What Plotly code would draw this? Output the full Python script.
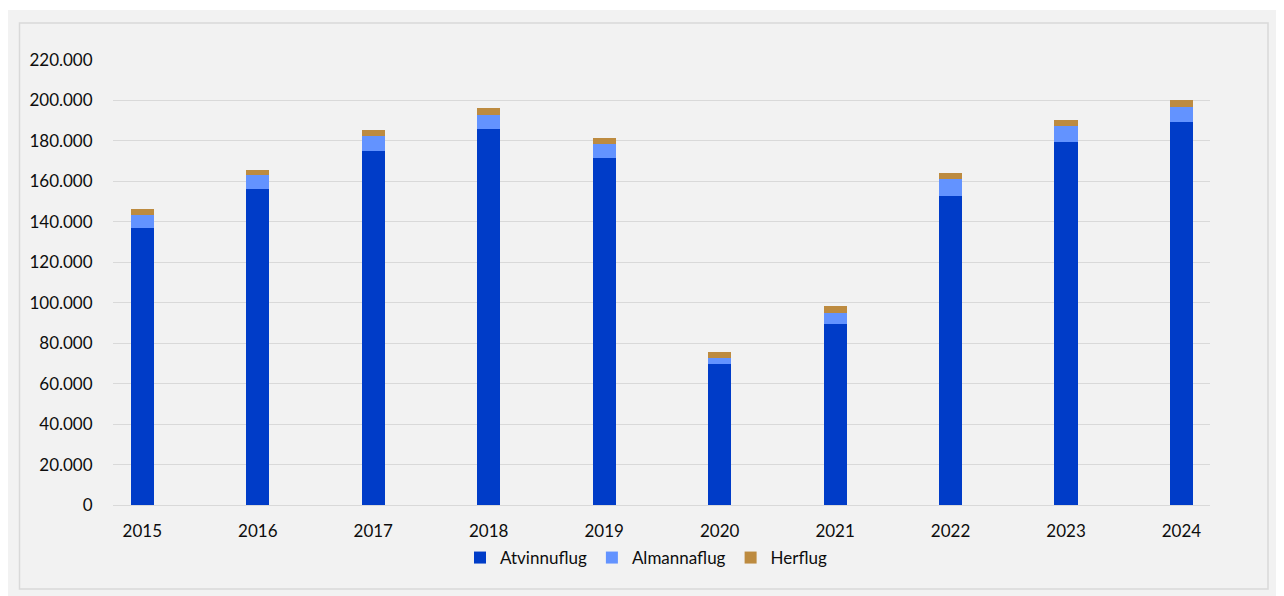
import plotly.graph_objects as go

years = ["2015", "2016", "2017", "2018", "2019", "2020", "2021", "2022", "2023", "2024"]
atvinnuflug = [136800, 156200, 175200, 185900, 171400, 69700, 89300, 152900, 179600, 189400]
almannaflug = [6600, 6800, 7100, 7100, 7100, 3100, 5500, 8100, 7600, 7500]
herflug = [2800, 2800, 3100, 3100, 3100, 2700, 3400, 3100, 3100, 3300]

series_names = ["Atvinnuflug", "Almannaflug", "Herflug"]
series_colors = ["#003cc8", "#6393ff", "#bd8b40"]

FONT = "Lato, 'Open Sans', sans-serif"
TEXT_COLOR = "#0d0d0d"

fig = go.Figure()
for name, vals, col in zip(series_names, [atvinnuflug, almannaflug, herflug], series_colors):
    fig.add_trace(go.Bar(x=years, y=vals, name=name, marker=dict(color=col, line=dict(width=0))))

# page has an 8px body margin; work in screenshot pixels and convert
OFF = 8
FW, FH = 1284 - OFF, 596 - OFF
L, R, T, B = 113 - OFF, 1210 - OFF, 60 - OFF, 505 - OFF
W, H = R - L, B - T

def px_x(p):
    return (p - OFF - L) / W

def px_y(p):
    return (B - (p - OFF)) / H

fig.update_layout(
    width=FW, height=FH,
    margin=dict(l=L, r=FW - R, t=T, b=FH - B, autoexpand=False),
    paper_bgcolor="white",
    plot_bgcolor="rgba(0,0,0,0)",
    barmode="stack",
    bargap=0.8,
    separators=",.",
    font=dict(family=FONT, size=17, color=TEXT_COLOR),
    shapes=[
        dict(type="rect", xref="paper", yref="paper", layer="below",
             x0=px_x(7), x1=px_x(1300), y0=px_y(620), y1=px_y(10),
             fillcolor="#f2f2f2", line=dict(width=0)),
        dict(type="rect", xref="paper", yref="paper", layer="below",
             x0=px_x(19.5), x1=px_x(1268), y0=px_y(589), y1=px_y(23),
             fillcolor="#f2f2f2", line=dict(color="#d9d9d9", width=1.5)),
    ],
    legend=dict(orientation="h", x=px_x(646), xanchor="center", y=px_y(558), yanchor="middle",
                font=dict(family=FONT, size=17, color=TEXT_COLOR),
                bgcolor="rgba(0,0,0,0)", traceorder="normal", itemwidth=30),
    showlegend=True,
    xaxis=dict(range=[-0.254, 9.247], showgrid=False, showline=False, zeroline=False,
               ticks="outside", ticklen=11, tickcolor="rgba(0,0,0,0)",
               tickfont=dict(family=FONT, size=17, color=TEXT_COLOR), fixedrange=True),
    yaxis=dict(range=[0, 220000], tickvals=list(range(0, 220001, 20000)), tickformat=",d",
               showgrid=True, gridcolor="#d9d9d9", gridwidth=1.3,
               zeroline=True, zerolinecolor="#d9d9d9", zerolinewidth=1.3,
               showline=False, ticks="outside", ticklen=16, tickcolor="rgba(0,0,0,0)",
               tickfont=dict(family=FONT, size=17, color=TEXT_COLOR), fixedrange=True),
)

fig.write_html("out.html")
